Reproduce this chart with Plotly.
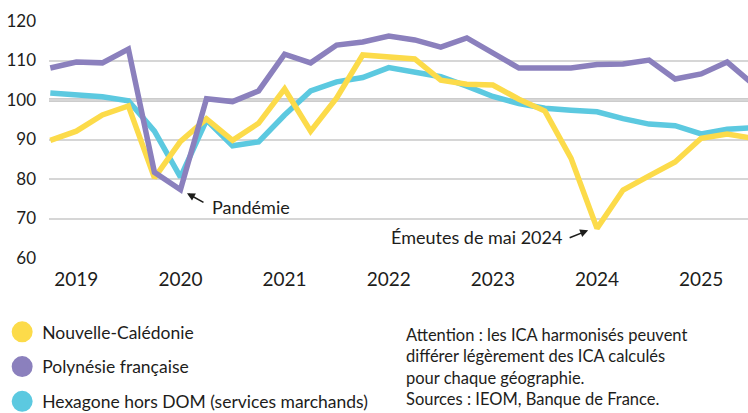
import plotly.graph_objects as go

# Quarterly index, 2019 Q1 .. 2025 Q4
quarters = list(range(28))
year_ticks = [1, 5, 9, 13, 17, 21, 25]
year_labels = ["2019", "2020", "2021", "2022", "2023", "2024", "2025"]

nouvelle_caledonie = [89.8, 92.1, 96.2, 98.5, 80.3, 89.5, 95.2, 89.8, 94.1, 102.8,
                      92.1, 100.5, 111.4, 110.9, 110.4, 105.0, 104.0, 103.8, 100.2, 97.2,
                      85.3, 67.5, 77.2, 80.8, 84.3, 90.3, 91.4, 90.3]
polynesie = [108.1, 109.6, 109.4, 112.9, 81.7, 77.3, 100.3, 99.6, 102.3, 111.6,
             109.4, 113.9, 114.7, 116.2, 115.2, 113.4, 115.7, 111.9, 108.1, 108.1,
             108.1, 109.0, 109.1, 110.1, 105.3, 106.6, 109.6, 104.0]
hexagone = [101.8, 101.4, 100.8, 99.8, 92.1, 80.5, 94.9, 88.4, 89.4, 96.2,
            102.3, 104.6, 105.7, 108.2, 107.2, 105.9, 103.5, 100.9, 99.1, 97.9,
            97.4, 97.0, 95.3, 93.9, 93.5, 91.4, 92.6, 93.0]

series = [
    ("Nouvelle-Calédonie", nouvelle_caledonie, "#FCDB4A"),
    ("Polynésie française", polynesie, "#8B80BD"),
    ("Hexagone hors DOM (services marchands)", hexagone, "#5CC9E0"),
]

FONT = "Lato"
INK = "#1d1d1b"

fig = go.Figure()

# Lines (Hexagone drawn first, then NC, then Polynesia on top)
for name, vals, col in [series[2], series[0], series[1]]:
    fig.add_trace(go.Scatter(
        x=quarters, y=vals, mode="lines", name=name,
        line=dict(color=col, width=5.5), showlegend=False, hoverinfo="skip",
    ))

# Legend entries as round swatches
for i, (name, vals, col) in enumerate(series):
    fig.add_trace(go.Scatter(
        x=[None], y=[None], mode="markers", name=name, legendgroup=f"g{i}",
        marker=dict(symbol="circle", size=16, color=col, line=dict(color=col, width=5)),
    ))

# Base-100 reference line
fig.add_shape(type="line", xref="paper", x0=0, x1=1, y0=100, y1=100,
              line=dict(color="#9a9a9a", width=3), layer="below")

# Event annotations
fig.add_annotation(x=5.25, y=76.4, ax=18, ay=10, text="", showarrow=True,
                   arrowhead=2, arrowsize=1, arrowwidth=1.6, arrowcolor=INK)
fig.add_annotation(x=6.15, y=72.85, text="Pandémie", showarrow=False,
                   xanchor="left", yanchor="middle",
                   font=dict(family=FONT, size=18, color=INK))
fig.add_annotation(x=20.66, y=67.0, ax=-20, ay=8, text="", showarrow=True,
                   arrowhead=2, arrowsize=1, arrowwidth=1.6, arrowcolor=INK)
fig.add_annotation(x=19.75, y=65.25, text="Émeutes de mai 2024", showarrow=False,
                   xanchor="right", yanchor="middle",
                   font=dict(family=FONT, size=18, color=INK))

# Note and sources
fig.add_annotation(
    xref="paper", yref="paper", x=0.508, y=-0.274, xanchor="left", yanchor="top",
    align="left", showarrow=False,
    text=("Attention : les ICA harmonisés peuvent<br>"
          "différer légèrement des ICA calculés<br>"
          "pour chaque géographie.<br>"
          "Sources : IEOM, Banque de France."),
    font=dict(family=FONT, size=16.5, color=INK),
)

fig.update_layout(
    width=748, height=413,
    margin=dict(l=49, r=0, t=21, b=155, autoexpand=False),
    paper_bgcolor="white", plot_bgcolor="white",
    font=dict(family=FONT, color=INK),
    legend=dict(
        x=-0.067, xanchor="left", y=-0.236, yanchor="top",
        orientation="v", tracegroupgap=9, traceorder="grouped",
        font=dict(family=FONT, size=17.5, color=INK),
        bgcolor="rgba(0,0,0,0)", borderwidth=0,
    ),
    showlegend=True,
)
fig.update_xaxes(
    range=[-0.05, 26.8], tickmode="array", tickvals=year_ticks, ticktext=year_labels,
    showgrid=False, zeroline=False, showline=False, ticks="",
    tickfont=dict(family=FONT, size=19, color=INK), ticklabelstandoff=8,
)
fig.update_yaxes(
    range=[60, 120], tickmode="array", tickvals=[60, 70, 80, 90, 100, 110, 120],
    showgrid=True, gridcolor="#d6d6d6", gridwidth=1.5, zeroline=False, showline=False,
    ticks="", tickfont=dict(family=FONT, size=17, color=INK), ticklabelstandoff=12,
)

fig.write_html("out.html")
